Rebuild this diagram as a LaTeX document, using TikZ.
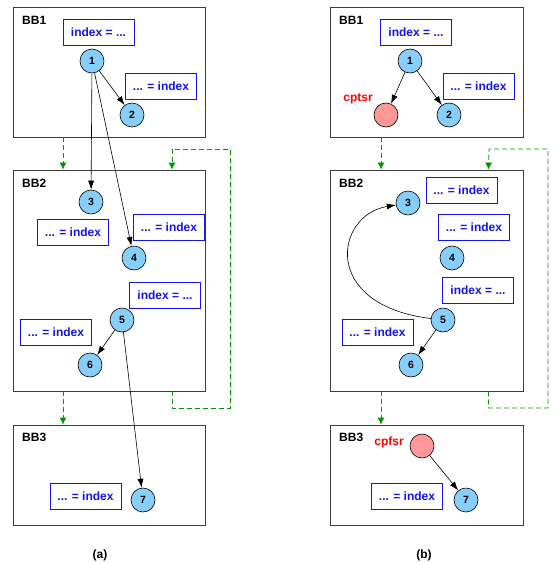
\documentclass[tikz,border=0pt]{standalone}
\usepackage{fontspec}
\usepackage{tikz}
\usetikzlibrary{arrows.meta}
\newfontfamily\diagfont{Liberation Sans}
\definecolor{nodeblue}{RGB}{135,206,250}
\definecolor{nodered}{RGB}{255,153,153}
\definecolor{textblue}{RGB}{20,20,240}
\definecolor{flowgreen}{RGB}{0,150,0}
\definecolor{boxgray}{RGB}{60,60,60}

\begin{document}
\begin{tikzpicture}[x=1pt, y=-1pt, font=\diagfont\bfseries\fontsize{12}{14}\selectfont,
		bb/.style={rectangle, draw=boxgray, thick, fill=white, minimum width=192pt, inner sep=0pt},
		bbname/.style={anchor=west, inner sep=0pt},
		var/.style={circle, draw=black, semithick, fill=nodeblue, minimum size=24pt, inner sep=0pt, font=\diagfont\bfseries\fontsize{10.5}{12}\selectfont},
		spill/.style={circle, draw=black, semithick, fill=nodered, minimum size=24pt, inner sep=0pt},
		use/.style={rectangle, draw=textblue, thick, fill=white, text=textblue, minimum width=71pt, minimum height=26pt, inner sep=0pt},
		redname/.style={text=red, inner sep=0pt},
		dep/.style={-{Latex[length=9pt,width=6pt]}, semithick, black},
		flow/.style={-{Latex[length=7pt,width=7pt]}, dash pattern=on 5pt off 3pt, thick, draw=flowgreen}]
			\useasboundingbox (0,0) rectangle (550,563);
			% (a)
			\node[bb, minimum height=130pt] (la) at (109,72){};
			\node[bb, minimum height=221pt] (lb) at (109,280.5){};
			\node[bb, minimum height=100pt] (lc) at (109,475){};
			\node[bbname] at (22,20){BB1};
			\node[bbname] at (22,183){BB2};
			\node[bbname] at (22,437){BB3};
			
			\node[use] (ldefone) at (98.5,32){index = ...};
			\node[use] (luseone) at (161,86.5){... = index};
			\node[use] (lusetwo) at (73,232){... = index};
			\node[use] (lusethree) at (169,227.5){... = index};
			\node[use] (ldeftwo) at (165,295.5){index = ...};
			\node[use] (lusefour) at (56,332.5){... = index};
			\node[use] (lusefive) at (85.5,496){... = index};
			
			\node[var] (l1) at (92,61){1};
			\node[var] (l2) at (132,115){2};
			\node[var] (l3) at (91,202){3};
			\node[var] (l4) at (134,258){4};
			\node[var] (l5) at (122,320){5};
			\node[var] (l6) at (90,365){6};
			\node[var] (l7) at (143,500){7};
			
			\path[dep] (l1) edge (l2);
			\path[dep] (l1) edge (l3);
			\path[dep] (l1) edge (l4);
			\path[dep] (l5) edge (l6);
			\path[dep] (l5) edge (l7);
			
			\draw[flow] ([xshift=-46pt]la.south) -- ([xshift=-46pt]lb.north);
			\draw[flow] ([xshift=-46pt]lb.south) -- ([xshift=-46pt]lc.north);
			\draw[flow] ([xshift=63pt]lb.south) |- (230,408) |- (172,149) -- ([xshift=63pt]lb.north);
			
			\node (lcap) at (100,555){(a)};
			
			% (b)
			\node[bb, minimum width=193pt, minimum height=130pt] (ra) at (426.5,72){};
			\node[bb, minimum width=193pt, minimum height=221pt] (rb) at (426.5,280.5){};
			\node[bb, minimum width=193pt, minimum height=100pt] (rc) at (426.5,475){};
			\node[bbname] at (339,20){BB1};
			\node[bbname] at (339,183){BB2};
			\node[bbname] at (339,437){BB3};
			
			\node[use] (rdefone) at (416,32){index = ...};
			\node[use] (ruseone) at (478.5,86.5){... = index};
			\node[use] (rusetwo) at (461.5,190){... = index};
			\node[use] (rusethree) at (474,227.5){... = index};
			\node[use] (rdeftwo) at (478,290.5){index = ...};
			\node[use] (rusefour) at (377.5,332.5){... = index};
			\node[use] (rusefive) at (407,496){... = index};
			
			\node[var] (r1) at (410,61){1};
			\node[var] (r2) at (449,115){2};
			\node[var] (r3) at (408,203){3};
			\node[var] (r4) at (452,258){4};
			\node[var] (r5) at (443,320){5};
			\node[var] (r6) at (411,365){6};
			\node[var] (r7) at (466,500){7};
			\node[spill] (store) at (386,115){};
			\node[spill] (load) at (422,446){};
			\node[redname] at (358,99){cptsr};
			\node[redname] at (389,442){cpfsr};
			
			\path[dep] (r1) edge (store);
			\path[dep] (r1) edge (r2);
			\path[dep] (r5) edge (r6);
			\draw[dep] (r5) .. controls (320,305) and (335,215) .. (r3);
			\path[dep] (load) edge (r7);
			
			\draw[flow] ([xshift=-45.5pt]ra.south) -- ([xshift=-45.5pt]rb.north);
			\draw[flow] ([xshift=-45.5pt]rb.south) -- ([xshift=-45.5pt]rc.north);
			\draw[flow] ([xshift=62pt]rb.south) |- (548,408) |- (489,149) -- ([xshift=62pt]rb.north);
			
			\node (rcap) at (424,555){(b)};
\end{tikzpicture}
\end{document}
